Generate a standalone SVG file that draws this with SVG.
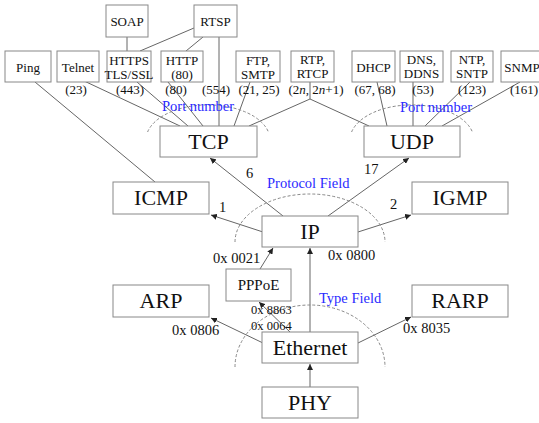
<svg xmlns="http://www.w3.org/2000/svg" width="539" height="423" viewBox="0 0 539 423">
<style>
text{font-family:"Liberation Serif","Times New Roman",serif;fill:#111}
.b{fill:#fff;stroke:#888;stroke-width:1}
.s{font-size:13px;text-anchor:middle}
.L{font-size:22px;text-anchor:middle}
.h{font-size:14.5px}
.blue{font-size:14.5px;fill:#2a2aff}
.c{stroke:#666;stroke-width:1;fill:none}
.a{marker-end:url(#ar)}
.d{stroke:#888;stroke-width:1;fill:none;stroke-dasharray:3 2}
</style>
<defs>
<marker id="ar" markerUnits="userSpaceOnUse" markerWidth="7" markerHeight="6" refX="6" refY="3" orient="auto"><path d="M0,0 L6,3 L0,6 z" fill="#222"/></marker>
</defs>
<rect width="539" height="423" fill="#fff"/>
<g id="connectors">
<path class="c" d="M127,37 V51"/>
<path class="c" d="M194,28 L140,51"/>
<path class="c" d="M203,37 L186,51"/>
<path class="c" d="M219,37 V126"/>
<path class="c" d="M35,82 L155,182"/>
<path class="c" d="M82,80 L180,126"/>
<path class="c" d="M137,82 L188,126"/>
<path class="c" d="M168,82 L203,126"/>
<path class="c" d="M250,82 L234,126"/>
<path class="c" d="M310,82 V99 L249,126 M310,99 L369,126"/>
<path class="c" d="M377,82 L387,126"/>
<path class="c" d="M413,82 V126"/>
<path class="c" d="M470,82 L425,126"/>
<path class="c" d="M520,82 L442,126"/>
<path class="c a" d="M283,216 L210,158"/>
<path class="c a" d="M328,216 L409,158"/>
<path class="c a" d="M263,232 L211,215"/>
<path class="c a" d="M358,232 L411,215"/>
<path class="c a" d="M260,269 L273,248"/>
<path class="c a" d="M310,332 V248"/>
<path class="c a" d="M290,332 L259,302"/>
<path class="c a" d="M263,343 L211,318"/>
<path class="c a" d="M358,343 L411,317"/>
<path class="c a" d="M310,387 V364"/>
<path class="d" d="M147.6,132 A62,35 0 0 1 268.4,132"/>
<path class="d" d="M351.6,132 A62,35 0 0 1 472.4,132"/>
<path class="d" d="M235,242 A75,48 0 0 1 385,242"/>
<path class="d" d="M235,367 A75,62 0 0 1 385,367"/>
</g>
<g id="soap"><rect class="b" x="106" y="5" width="42" height="32"/><text class="s" x="127" y="26">SOAP</text></g>
<g id="rtsp"><rect class="b" x="194" y="5" width="43" height="32"/><text class="s" x="215.5" y="26">RTSP</text></g>
<g id="ping"><rect class="b" x="5" y="51" width="46" height="31"/><text class="s" x="28" y="72">Ping</text></g>
<g id="telnet"><rect class="b" x="57" y="51" width="42" height="31"/><text class="s" x="78" y="72">Telnet</text></g>
<g id="https"><rect class="b" x="107" y="51" width="44" height="31"/><text class="s" x="129" y="65">HTTPS</text><text class="s" x="129" y="79">TLS/SSL</text></g>
<g id="http"><rect class="b" x="161" y="51" width="42" height="31"/><text class="s" x="182" y="65">HTTP</text><text class="s" x="182" y="79">(80)</text></g>
<g id="ftp"><rect class="b" x="236" y="51" width="44" height="31"/><text class="s" x="258" y="65">FTP,</text><text class="s" x="258" y="79">SMTP</text></g>
<g id="rtp"><rect class="b" x="291" y="51" width="43" height="31"/><text class="s" x="312.5" y="64">RTP,</text><text class="s" x="312.5" y="78">RTCP</text></g>
<g id="dhcp"><rect class="b" x="352" y="51" width="43" height="31"/><text class="s" x="373.5" y="72">DHCP</text></g>
<g id="dns"><rect class="b" x="400" y="51" width="43" height="31"/><text class="s" x="421.5" y="64">DNS,</text><text class="s" x="421.5" y="78">DDNS</text></g>
<g id="ntp"><rect class="b" x="451" y="51" width="42" height="31"/><text class="s" x="472" y="64">NTP,</text><text class="s" x="472" y="78">SNTP</text></g>
<g id="snmp"><rect class="b" x="501" y="51" width="44" height="31"/><text class="s" x="522" y="72">SNMP</text></g>
<g id="ports">
<text class="s" x="76" y="94">(23)</text>
<text class="s" x="130" y="94">(443)</text>
<text class="s" x="176" y="94">(80)</text>
<text class="s" x="216" y="94">(554)</text>
<text class="s" x="259" y="94">(21, 25)</text>
<text class="s" x="316" y="94">(2<tspan font-style="italic">n</tspan>, 2<tspan font-style="italic">n</tspan>+1)</text>
<text class="s" x="375" y="94">(67, 68)</text>
<text class="s" x="423" y="94">(53)</text>
<text class="s" x="472" y="94">(123)</text>
<text class="s" x="524" y="94">(161)</text>
</g>
<text class="blue" x="162" y="111">Port number</text>
<text class="blue" x="400" y="112">Port number</text>
<g id="tcp"><rect class="b" x="160" y="126" width="97" height="31"/><text class="L" x="208.5" y="149">TCP</text></g>
<g id="udp"><rect class="b" x="364" y="126" width="96" height="31"/><text class="L" x="412" y="149">UDP</text></g>
<g id="icmp"><rect class="b" x="113" y="182" width="96" height="32"/><text class="L" x="161" y="205">ICMP</text></g>
<g id="igmp"><rect class="b" x="412" y="182" width="96" height="32"/><text class="L" x="460" y="205">IGMP</text></g>
<g id="ip"><rect class="b" x="262" y="216" width="96" height="31"/><text class="L" x="310" y="239">IP</text></g>
<g id="pppoe"><rect class="b" x="226" y="269" width="65" height="32"/><text class="s" style="font-size:15px" x="258.5" y="290">PPPoE</text></g>
<g id="arp"><rect class="b" x="113" y="285" width="96" height="32"/><text class="L" x="161" y="308">ARP</text></g>
<g id="rarp"><rect class="b" x="412" y="285" width="96" height="32"/><text class="L" x="460" y="308">RARP</text></g>
<g id="ethernet"><rect class="b" x="262" y="332" width="96" height="31"/><text class="L" x="310" y="355">Ethernet</text></g>
<g id="phy"><rect class="b" x="262" y="387" width="96" height="31"/><text class="L" x="310" y="410">PHY</text></g>
<g id="labels">
<text class="h" x="246" y="178">6</text>
<text class="h" x="364" y="174">17</text>
<text class="h" x="219" y="212">1</text>
<text class="h" x="390" y="209">2</text>
<text class="blue" x="267" y="188">Protocol Field</text>
<text class="h" x="213" y="263">0x 0021</text>
<text class="h" x="328" y="260">0x 0800</text>
<text style="font-size:12.5px" x="251" y="314">0x 8863</text>
<text style="font-size:12.5px" x="251" y="330">0x 0064</text>
<text class="blue" x="319" y="303">Type Field</text>
<text class="h" x="172" y="335">0x 0806</text>
<text class="h" x="403" y="333">0x 8035</text>
</g>
</svg>
